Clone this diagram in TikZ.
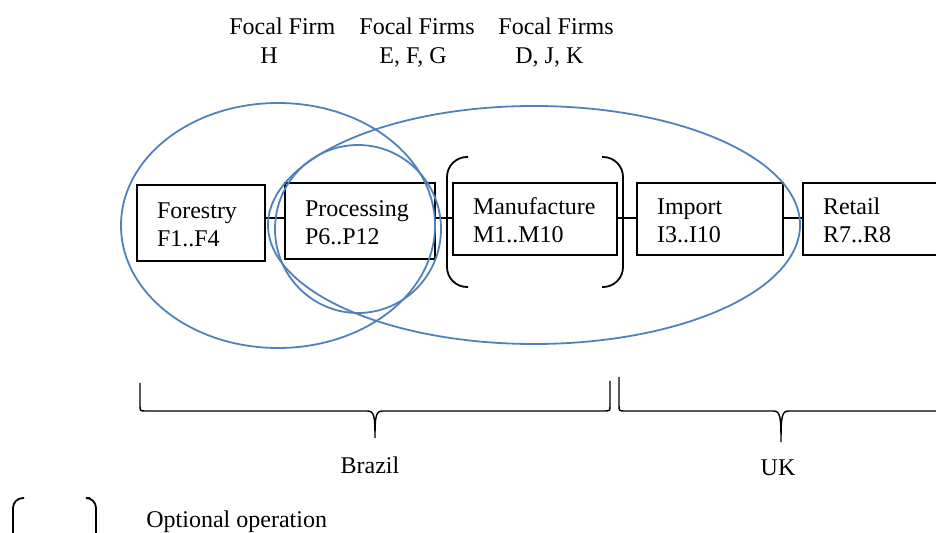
\documentclass[tikz,border=0pt]{standalone}
\usepackage{fontspec}
\setmainfont{Liberation Serif}
\definecolor{focusblue}{RGB}{79,129,189}
\tikzset{
    stage/.style={draw, line width=0.6pt, align=left, inner xsep=10pt,
                  inner ysep=0pt, minimum height=36pt,
                  font=\fontsize{12}{14}\selectfont,
                  execute at begin node=\rule{0pt}{10pt}},
    link/.style={line width=0.6pt},
    focus/.style={draw=focusblue, line width=0.9pt},
    optional/.style={line width=0.9pt},
    region/.style={line width=0.7pt},
    caption/.style={font=\fontsize{12}{14.5}\selectfont, align=left, inner sep=0pt},
}
\newcommand{\regionbrace}[6]{
    \draw[region] (#1,#4) -- (#1,405) .. controls (#1,411) .. (#1+6,411)
        -- (#3-8,411) .. controls (#3-1,411) and (#3,415) .. (#3,#6)
        .. controls (#3,415) and (#3+1,411) .. (#3+8,411)
        -- (#2-6,411) .. controls (#2,411) .. (#2,405) -- (#2,#5);
}

\begin{document}
\begin{tikzpicture}[x=0.5pt, y=-0.5pt]
    \clip (0,0) rectangle (936,533);

    \node[caption, anchor=west] (firmH) at (229,41) {Focal Firm\\\hspace*{15.5pt}H};
    \node[caption, anchor=west] (firmEFG) at (359,43) {Focal Firms\\\hspace*{10pt}E, F, G};
    \node[caption, anchor=west] (firmDJK) at (498,43) {Focal Firms\\\hspace*{8.5pt}D, J, K};

    \node[stage, text width=44pt, minimum height=38pt] (forestry) at (201,223) {Forestry\\F1..F4};
    \node[stage, text width=55pt, minimum height=38pt] (processing) at (360,221) {Processing\\P6..P12};
    \node[stage, text width=62pt] (manufacture) at (535,219) {Manufacture\\M1..M10};
    \node[stage, text width=53pt] (import) at (710,219) {Import\\I3..I10};
    \node[stage, text width=55pt] (retail) at (878,219) {Retail\\R7..R8};

    \coordinate (chain) at (0,218);
    \draw[link] (forestry.east |- chain) -- (processing.west |- chain);
    \draw[link] (processing.east |- chain) -- (manufacture.west |- chain);
    \draw[link] (manufacture.east |- chain) -- (import.west |- chain);
    \draw[link] (import.east |- chain) -- (retail.west |- chain);

    \draw[optional, rounded corners=10pt] (468,157) -- (447,157) -- (447,287) -- (468,287);
    \draw[optional, rounded corners=10pt] (602,157) -- (623,157) -- (623,287) -- (602,287);

    \draw[focus] (278,225.5) ellipse [x radius=78.5pt, y radius=61.25pt];
    \draw[focus] (358,229) ellipse [x radius=41.5pt, y radius=42pt];
    \draw[focus] (534,225) ellipse [x radius=133pt, y radius=59.5pt];

    \regionbrace{140}{610}{375}{383}{381}{438}
    \regionbrace{619}{1000}{781}{377}{377}{442}
    \node[caption] (brazil) at (370,465) {Brazil};
    \node[caption] (uk) at (778,468) {UK};

    \draw[optional, rounded corners=5pt] (24,498) -- (13,498) -- (13,570) -- (24,570);
    \draw[optional, rounded corners=5pt] (90,498) -- (96,498) -- (96,570) -- (90,570);
    \node[caption, anchor=west] (legend) at (146,522) {Optional operation};
\end{tikzpicture}
\end{document}
